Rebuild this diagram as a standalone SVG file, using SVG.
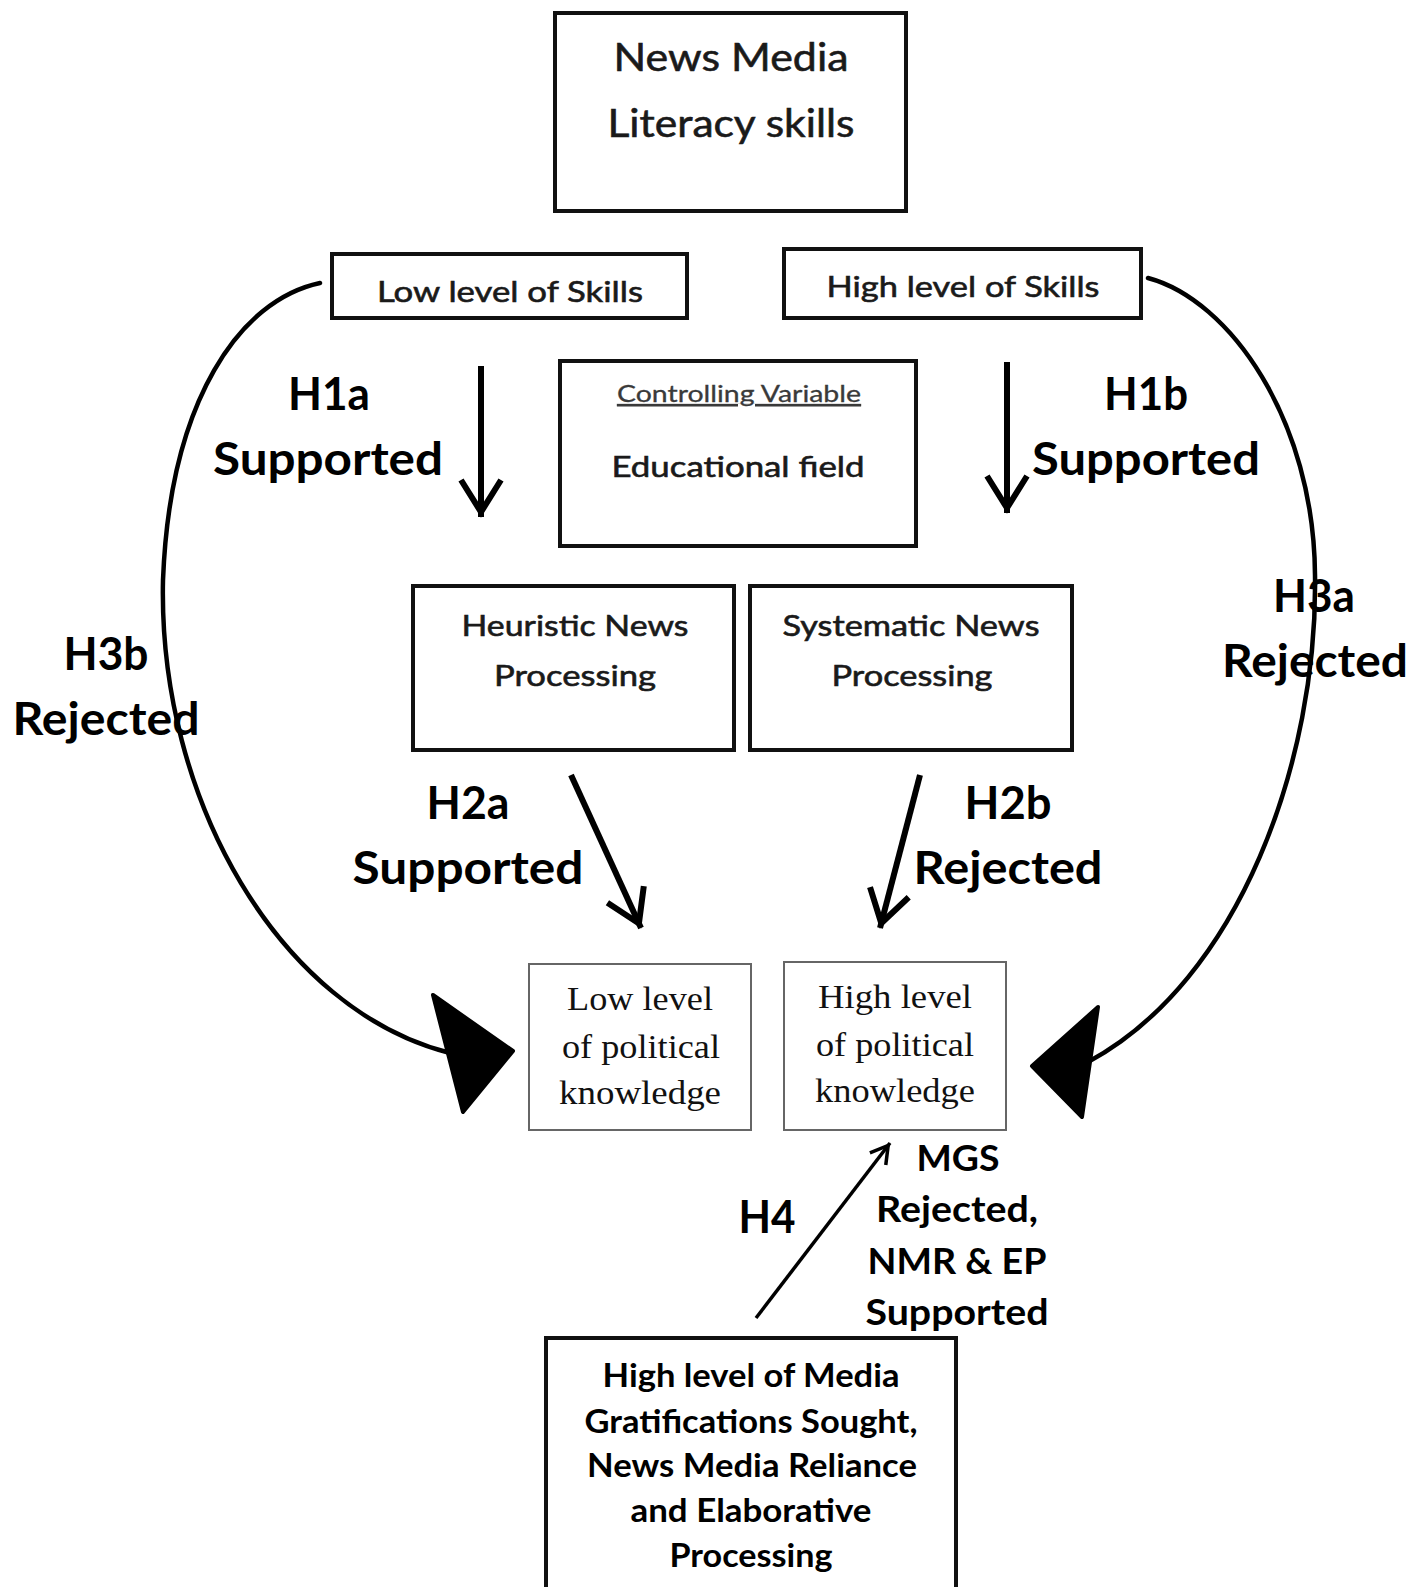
<svg xmlns="http://www.w3.org/2000/svg" width="1427" height="1587" viewBox="0 0 1427 1587">
<defs>
<style>
.box{fill:#fff;stroke:#111;stroke-width:4}
.kbox{fill:#fff;stroke:#666;stroke-width:2}
.bt{font-family:Lato,"Liberation Sans",sans-serif;fill:#1a1a1a;stroke:#1a1a1a;stroke-width:0.6;text-anchor:middle}
.lb{font-family:Lato,"Liberation Sans",sans-serif;font-weight:bold;fill:#000;text-anchor:middle}
.st{font-family:"Liberation Serif","Times New Roman",serif;fill:#111;text-anchor:middle}
.conn{fill:none;stroke:#000;stroke-width:6}
.curve{fill:none;stroke:#000;stroke-width:4.5;stroke-linecap:round}
.tri{fill:#000;stroke:#000;stroke-width:4;stroke-linejoin:round}
</style>
<marker id="vhead" markerUnits="userSpaceOnUse" viewBox="-50 -30 60 60" refX="0" refY="0" markerWidth="60" markerHeight="60" orient="auto" overflow="visible">
<path d="M-37,-20 L-5,0 L-37,20" fill="none" stroke="#000" stroke-width="6" stroke-linejoin="miter"/>
</marker>
<marker id="vsmall" markerUnits="userSpaceOnUse" viewBox="-30 -20 40 40" refX="0" refY="0" markerWidth="40" markerHeight="40" orient="auto" overflow="visible">
<path d="M-20,-10 L-3,0 L-20,10" fill="none" stroke="#000" stroke-width="3.5" stroke-linejoin="miter"/>
</marker>
</defs>
<rect width="1427" height="1587" fill="#fff"/>

<g id="node-news-media">
<rect class="box" x="555" y="13" width="351" height="198"/>
<text class="bt" x="731" y="71" font-size="39" textLength="235" lengthAdjust="spacingAndGlyphs">News Media</text>
<text class="bt" x="731" y="137" font-size="39" textLength="247" lengthAdjust="spacingAndGlyphs">Literacy skills</text>
</g>

<g id="node-low-skills">
<rect class="box" x="332" y="254" width="355" height="64"/>
<text class="bt" x="510" y="302" font-size="29" textLength="266" lengthAdjust="spacingAndGlyphs">Low level of Skills</text>
</g>

<g id="node-high-skills">
<rect class="box" x="784" y="249" width="357" height="69"/>
<text class="bt" x="963" y="297" font-size="29" textLength="273" lengthAdjust="spacingAndGlyphs">High level of Skills</text>
</g>

<g id="node-controlling">
<rect class="box" x="560" y="361" width="356" height="185"/>
<text class="bt" x="739" y="402" font-size="23" text-decoration="underline" textLength="244" lengthAdjust="spacingAndGlyphs" style="fill:#3a3a3a;stroke:#3a3a3a;stroke-width:0.3">Controlling Variable</text>
<text class="bt" x="738" y="477" font-size="29" textLength="253" lengthAdjust="spacingAndGlyphs">Educational field</text>
</g>

<g id="node-heuristic">
<rect class="box" x="413" y="586" width="321" height="164"/>
<text class="bt" x="575" y="636" font-size="29" textLength="227" lengthAdjust="spacingAndGlyphs">Heuristic News</text>
<text class="bt" x="575" y="686" font-size="29" textLength="162" lengthAdjust="spacingAndGlyphs">Processing</text>
</g>

<g id="node-systematic">
<rect class="box" x="750" y="586" width="322" height="164"/>
<text class="bt" x="911" y="636" font-size="29" textLength="257" lengthAdjust="spacingAndGlyphs">Systematic News</text>
<text class="bt" x="912" y="686" font-size="29" textLength="161" lengthAdjust="spacingAndGlyphs">Processing</text>
</g>

<g id="node-low-knowledge">
<rect class="kbox" x="529" y="964" width="222" height="166"/>
<text class="st" x="640" y="1010" font-size="34" textLength="146" lengthAdjust="spacingAndGlyphs">Low level</text>
<text class="st" x="641" y="1058" font-size="34" textLength="158" lengthAdjust="spacingAndGlyphs">of political</text>
<text class="st" x="640" y="1104" font-size="34" textLength="162" lengthAdjust="spacingAndGlyphs">knowledge</text>
</g>

<g id="node-high-knowledge">
<rect class="kbox" x="784" y="962" width="222" height="168"/>
<text class="st" x="895" y="1008" font-size="34" textLength="154" lengthAdjust="spacingAndGlyphs">High level</text>
<text class="st" x="895" y="1056" font-size="34" textLength="158" lengthAdjust="spacingAndGlyphs">of political</text>
<text class="st" x="895" y="1102" font-size="34" textLength="160" lengthAdjust="spacingAndGlyphs">knowledge</text>
</g>

<g id="node-gratifications">
<rect class="box" x="546" y="1338" width="410" height="270"/>
<text class="lb" x="751" y="1387" font-size="33" textLength="297" lengthAdjust="spacingAndGlyphs">High level of Media</text>
<text class="lb" x="751" y="1433" font-size="33" textLength="333" lengthAdjust="spacingAndGlyphs">Gratifications Sought,</text>
<text class="lb" x="752" y="1477" font-size="33" textLength="330" lengthAdjust="spacingAndGlyphs">News Media Reliance</text>
<text class="lb" x="751" y="1522" font-size="33" textLength="241" lengthAdjust="spacingAndGlyphs">and Elaborative</text>
<text class="lb" x="751" y="1567" font-size="33" textLength="163" lengthAdjust="spacingAndGlyphs">Processing</text>
</g>

<g id="labels">
<text class="lb" x="329" y="410" font-size="46" textLength="82" lengthAdjust="spacingAndGlyphs">H1a</text>
<text class="lb" x="328" y="475" font-size="46" textLength="230" lengthAdjust="spacingAndGlyphs">Supported</text>
<text class="lb" x="1146" y="410" font-size="46" textLength="84" lengthAdjust="spacingAndGlyphs">H1b</text>
<text class="lb" x="1146" y="475" font-size="46" textLength="228" lengthAdjust="spacingAndGlyphs">Supported</text>
<text class="lb" x="468" y="819" font-size="46" textLength="83" lengthAdjust="spacingAndGlyphs">H2a</text>
<text class="lb" x="468" y="884" font-size="46" textLength="231" lengthAdjust="spacingAndGlyphs">Supported</text>
<text class="lb" x="1008" y="819" font-size="46" textLength="87" lengthAdjust="spacingAndGlyphs">H2b</text>
<text class="lb" x="1008" y="884" font-size="46" textLength="189" lengthAdjust="spacingAndGlyphs">Rejected</text>
<text class="lb" x="106" y="670" font-size="46" textLength="85" lengthAdjust="spacingAndGlyphs">H3b</text>
<text class="lb" x="106" y="735" font-size="46" textLength="187" lengthAdjust="spacingAndGlyphs">Rejected</text>
<text class="lb" x="1314" y="612" font-size="46" textLength="82" lengthAdjust="spacingAndGlyphs">H3a</text>
<text class="lb" x="1315" y="677" font-size="46" textLength="186" lengthAdjust="spacingAndGlyphs">Rejected</text>
<text class="lb" x="767" y="1233" font-size="46" textLength="57" lengthAdjust="spacingAndGlyphs">H4</text>
<text class="lb" x="958" y="1171" font-size="36" textLength="83" lengthAdjust="spacingAndGlyphs">MGS</text>
<text class="lb" x="957" y="1222" font-size="36" textLength="162" lengthAdjust="spacingAndGlyphs">Rejected,</text>
<text class="lb" x="957" y="1274" font-size="36" textLength="179" lengthAdjust="spacingAndGlyphs">NMR &amp; EP</text>
<text class="lb" x="957" y="1325" font-size="36" textLength="183" lengthAdjust="spacingAndGlyphs">Supported</text>
</g>

<g id="connectors">
<line class="conn" x1="481" y1="366" x2="481" y2="517" marker-end="url(#vhead)"/>
<line class="conn" x1="1007" y1="362" x2="1007" y2="513" marker-end="url(#vhead)"/>
<line class="conn" x1="571" y1="775" x2="641" y2="928" marker-end="url(#vhead)"/>
<line class="conn" x1="920" y1="775" x2="880" y2="928" marker-end="url(#vhead)"/>
<line class="conn" style="stroke-width:3.5" x1="756" y1="1318" x2="890" y2="1143" marker-end="url(#vsmall)"/>
<path class="curve" d="M320,283 C240,300 170,400 163,580 C158,800 280,1010 450,1053"/>
<path class="tri" d="M433,995 L513,1051 L463,1112 Z"/>
<path class="curve" d="M1148,278 C1230,300 1314,420 1315,575 C1318,760 1240,980 1088,1062"/>
<path class="tri" d="M1098,1007 L1032,1066 L1082,1117 Z"/>
</g>
</svg>
